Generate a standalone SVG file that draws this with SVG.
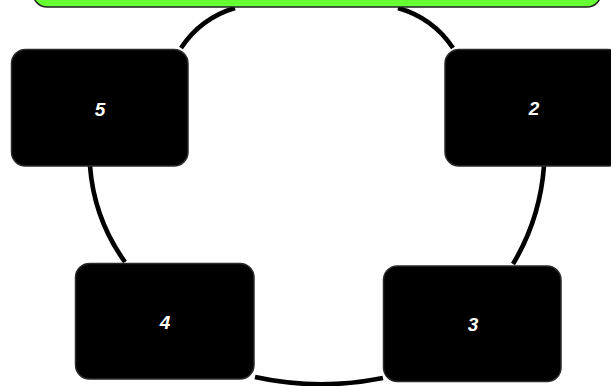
<svg xmlns="http://www.w3.org/2000/svg" width="611" height="386" viewBox="0 0 611 386">
  <style>
    .box { fill: #000000; stroke: #2a2a2a; stroke-width: 1.5; }
    .top { fill: #66ff33; stroke: #222222; stroke-width: 1.5; }
    .lbl { fill: #ffffff; font-family: "Liberation Sans", Arial, sans-serif; font-size: 19px; font-weight: bold; font-style: italic; text-anchor: middle; }
    .arc { fill: none; stroke: #000000; stroke-width: 4.6; }
  </style>
  <rect x="0" y="0" width="611" height="386" fill="#ffffff"/>
  <g id="connectors">
    <path class="arc" d="M235,8 Q201,18 181,48"/>
    <path class="arc" d="M398,8 Q433,18 453,48"/>
    <path class="arc" d="M90,166 Q94,219 125,262"/>
    <path class="arc" d="M544,166 Q540,219 513,264"/>
    <path class="arc" d="M255,377 Q319,391 383,378"/>
  </g>
  <g id="node1">
    <rect class="top" x="33" y="-110" width="568" height="117" rx="14"/>
  </g>
  <g id="node2">
    <rect class="box" x="445" y="49.5" width="177" height="116.5" rx="14"/>
    <text class="lbl" x="534" y="115">2</text>
  </g>
  <g id="node3">
    <rect class="box" x="383.5" y="266" width="177.5" height="115.5" rx="14"/>
    <text class="lbl" x="473" y="331">3</text>
  </g>
  <g id="node4">
    <rect class="box" x="75.5" y="263.5" width="178.5" height="115.5" rx="14"/>
    <text class="lbl" x="165" y="329">4</text>
  </g>
  <g id="node5">
    <rect class="box" x="11.5" y="49.5" width="176.5" height="116.5" rx="14"/>
    <text class="lbl" x="100" y="116">5</text>
  </g>
</svg>
